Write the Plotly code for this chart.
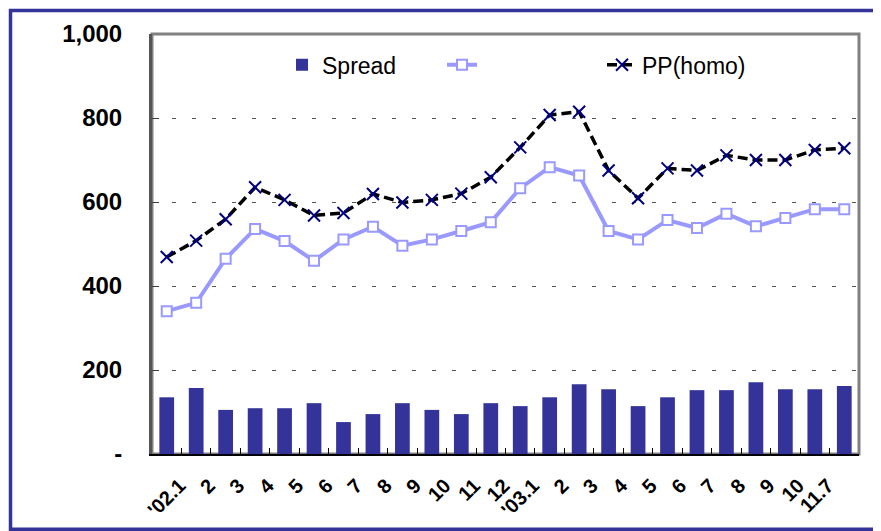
import plotly.graph_objects as go

tick_labels = ["'02.1", "2", "3", "4", "5", "6", "7", "8", "9", "10", "11", "12",
               "'03.1", "2", "3", "4", "5", "6", "7", "8", "9", "10", "11.7", ""]
spread_bars = [135, 157, 105, 109, 109, 121, 76, 95, 121, 105, 95, 121,
               114, 135, 166, 154, 114, 135, 152, 152, 171, 154, 154, 162]
spread_line = [340, 360, 465, 536, 507, 460, 511, 541, 496, 511, 531, 552,
               633, 683, 663, 531, 511, 557, 538, 572, 542, 562, 583, 583]
pp_homo = [469, 508, 559, 635, 605, 568, 574, 619, 599, 605, 620, 659,
           730, 807, 815, 675, 609, 680, 675, 711, 700, 700, 724, 728]
y_tickvals = [0, 200, 400, 600, 800, 1000]
y_ticktext = ["-", "200", "400", "600", "800", "1,000"]

x = list(range(len(tick_labels)))
FONT = "Liberation Sans, Arial, sans-serif"

fig = go.Figure()
fig.add_trace(go.Bar(x=x, y=spread_bars, name="Spread",
                     marker=dict(color="#333399", line=dict(width=0))))
fig.add_trace(go.Scatter(x=x, y=spread_line, name="", mode="lines+markers",
                         line=dict(color="#9999FF", width=4),
                         marker=dict(symbol="square", size=10, color="white",
                                     line=dict(color="#9999FF", width=2))))
fig.add_trace(go.Scatter(x=x, y=pp_homo, name="PP(homo)", mode="lines+markers",
                         line=dict(color="black", width=3.5, dash="10px,5px"),
                         marker=dict(symbol="x-thin", size=12, color="#000080",
                                     line=dict(color="#000080", width=2))))

# page body adds an 8px offset; positions below are in figure pixels
OFF = 8
W, H = 881, 531
L, R, T, B = 152 - OFF, 859 - OFF, 32 - OFF, 454 - OFF
pw, ph = R - L, B - T

def px_x(v):
    return (v - OFF - L) / pw

def px_y(v):
    return (B - (v - OFF)) / ph

fig.update_layout(
    width=W, height=H,
    margin=dict(l=L, r=W - R, t=T, b=H - B),
    paper_bgcolor="white", plot_bgcolor="white",
    font=dict(family=FONT, color="black"),
    bargap=0.5,
    showlegend=True,
    legend=dict(orientation="h", x=px_x(282), y=px_y(63), xanchor="left", yanchor="middle",
                font=dict(size=23, family=FONT), bgcolor="rgba(0,0,0,0)",
                entrywidth=115, entrywidthmode="pixels", traceorder="normal"),
    xaxis=dict(range=[-0.5, len(x) - 0.5], tickmode="array", tickvals=x, ticktext=tick_labels,
               tickangle=-45, tickfont=dict(size=20, family=FONT, weight="bold"),
               ticks="", showgrid=False, zeroline=False,
               showline=True, linecolor="black", linewidth=2,
               ticklabelstandoff=10, ticklabelshift=13,
               minor=dict(tickmode="array", tickvals=[i + 0.5 for i in x[:-1]], ticks="inside",
                          ticklen=6, tickcolor="black", tickwidth=1, showgrid=False)),
    yaxis=dict(range=[0, 1000], tickmode="array", tickvals=y_tickvals, ticktext=y_ticktext,
               tickfont=dict(size=24, family=FONT, weight="bold"),
               ticks="inside", ticklen=7, tickcolor="#404040", tickwidth=1,
               showgrid=True, gridcolor="#555555", gridwidth=1, griddash="4px,16px",
               zeroline=False, showline=True, linecolor="#555555", linewidth=3,
               ticklabelstandoff=22),
    shapes=[
        dict(type="rect", xref="paper", yref="paper", x0=0, x1=1, y0=0, y1=1,
             line=dict(color="#808080", width=3), layer="below"),
        dict(type="rect", xref="paper", yref="paper",
             x0=px_x(10.5), x1=px_x(900), y0=px_y(529.5), y1=px_y(8.5),
             line=dict(color="#333399", width=3.5), layer="above"),
    ],
)

fig.write_html("out.html")
